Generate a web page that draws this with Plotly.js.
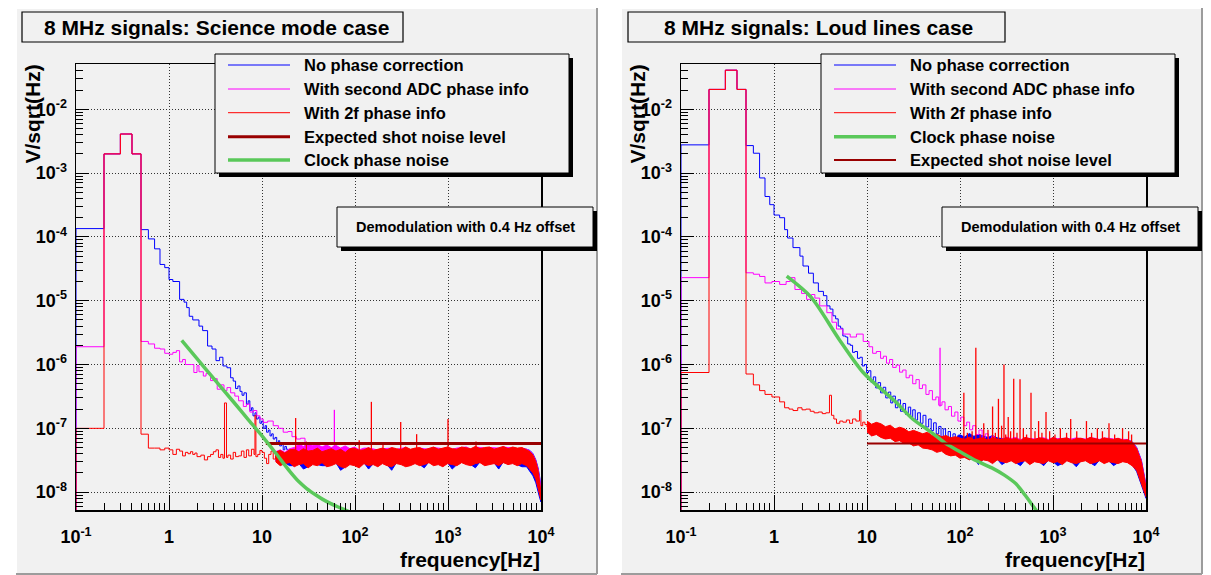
<!DOCTYPE html>
<html><head><meta charset="utf-8">
<script src="https://cdn.plot.ly/plotly-3.0.1.min.js"></script>
<style>html,body{margin:0;padding:0;background:#fff;} #chart{width:1211px;height:575px;}</style>
</head><body><div id="chart"></div>
<script>
// ---------------- text ----------------
const panelTitles = ['8 MHz signals: Science mode case', '8 MHz signals: Loud lines case'];
const legendL = ['No phase correction', 'With second ADC phase info', 'With 2f phase info', 'Expected shot noise level', 'Clock phase noise'];
const legendR = ['No phase correction', 'With second ADC phase info', 'With 2f phase info', 'Clock phase noise', 'Expected shot noise level'];
const boxNote = 'Demodulation with 0.4 Hz offset';
const yTitle = 'V/sqrt(Hz)';
const xTitle = 'frequency[Hz]';

// ---------------- ticks ----------------
const xTickVals = [0.1, 1, 10, 100, 1000, 10000];
const xTickText = ['10<sup>-1</sup>', '1', '10', '10<sup>2</sup>', '10<sup>3</sup>', '10<sup>4</sup>'];
const yTickVals = [1e-8, 1e-7, 1e-6, 1e-5, 1e-4, 1e-3, 1e-2];
const yTickText = ['10<sup>-8</sup>', '10<sup>-7</sup>', '10<sup>-6</sup>', '10<sup>-5</sup>', '10<sup>-4</sup>', '10<sup>-3</sup>', '10<sup>-2</sup>'];

// ================= LEFT PANEL (Science mode) =================
const blueL_f = [0.1, 0.1, 0.2, 0.3, 0.4, 0.5, 0.6, 0.7, 0.8, 0.9, 1.0, 1.1, 1.3, 1.45, 1.55, 1.65, 1.8, 2.1, 2.3, 2.6, 2.9, 3.2, 3.5, 3.8, 4.2, 4.6, 4.9, 5.2, 5.5, 5.8, 6.1, 6.4, 6.8, 7.1, 7.4, 7.7, 8.0, 8.4, 8.7, 9.1, 9.5, 9.9, 10.3, 10.8, 11.2, 11.7, 12.2, 12.7, 13.2, 13.8, 14.4, 15.0, 15.5, 16.2, 16.9, 17.6, 18.3, 19.2, 20];
const blueL_v = [4e-9, 1.35e-4, 2.0e-3, 4.1e-3, 2.0e-3, 1.3e-4, 9.3e-5, 6.5e-5, 3.7e-5, 3.3e-5, 2.15e-5, 2.0e-5, 1.05e-5, 9.5e-6, 7.8e-6, 5.7e-6, 5.0e-6, 4.0e-6, 3.4e-6, 1.95e-6, 1.75e-6, 1.15e-6, 1.3e-6, 9.5e-7, 8.9e-7, 6.2e-7, 5.5e-7, 4.2e-7, 4.6e-7, 3.8e-7, 3.3e-7, 3.6e-7, 2.4e-7, 2.7e-7, 1.9e-7, 2.1e-7, 1.57e-7, 1.75e-7, 1.4e-7, 1.5e-7, 1.2e-7, 1.3e-7, 1.0e-7, 1.1e-7, 8.7e-8, 9.4e-8, 7.6e-8, 8.2e-8, 6.8e-8, 7.2e-8, 5.8e-8, 6.4e-8, 5.3e-8, 5.7e-8, 4.6e-8, 5.2e-8, 4.7e-8, 4.3e-8, 4.0e-8];

const magL_f = [0.1, 0.1, 0.2, 0.3, 0.4, 0.5, 0.6, 0.7, 0.8, 0.9, 1.0, 1.1, 1.2, 1.3, 1.4, 1.5, 1.75, 1.85, 2.0, 2.1, 2.34, 2.5, 2.8, 3.0, 3.3, 3.6, 3.9, 4.2, 4.6, 5.1, 5.6, 6.3, 6.8, 7.4, 8.1, 8.8, 9.5, 10.3, 11.5, 13.2, 15, 16.9, 19, 21, 23.4, 26, 29, 32, 36, 40];
const magL_v = [4e-9, 1.9e-6, 2.0e-3, 4.1e-3, 2.0e-3, 2.3e-6, 2.1e-6, 1.8e-6, 1.75e-6, 1.5e-6, 1.45e-6, 1.55e-6, 1.65e-6, 1.1e-6, 1.2e-6, 1.0e-6, 1.0e-6, 7.5e-7, 9.6e-7, 7.7e-7, 6.6e-7, 7.2e-7, 5.6e-7, 6.0e-7, 4.1e-7, 4.8e-7, 3.9e-7, 4.35e-7, 3.6e-7, 3.2e-7, 2.7e-7, 2.2e-7, 2.4e-7, 1.8e-7, 1.9e-7, 1.57e-7, 1.4e-7, 1.24e-7, 1.3e-7, 1.1e-7, 1.0e-7, 8.7e-8, 8.9e-8, 7.4e-8, 6.8e-8, 7.0e-8, 5.8e-8, 5.5e-8, 5.8e-8, 4.8e-8];

const redL_f = [0.1, 0.1, 0.2, 0.3, 0.4, 0.5, 0.6, 0.7, 0.8, 0.9, 1.0, 1.1, 1.2, 1.3, 1.4, 1.5, 1.6, 1.7, 1.8, 1.9, 2.0, 2.2, 2.4, 2.6, 2.8, 3.0, 3.2, 3.4, 3.6, 3.8, 3.95, 4.15, 4.3, 4.6, 4.9, 5.2, 5.6, 6.0, 6.4, 6.8, 7.2, 7.7, 8.2, 8.4, 8.6, 9.0, 9.5, 10, 10.6, 11.2, 11.8, 12.5, 13.2, 14];
const redL_v = [4e-9, 1.0e-7, 2.0e-3, 4.1e-3, 2.0e-3, 8.1e-8, 4.9e-8, 4.9e-8, 4.6e-8, 4.9e-8, 4.6e-8, 3.9e-8, 4.7e-8, 4.4e-8, 3.7e-8, 4.2e-8, 4.0e-8, 4.3e-8, 3.9e-8, 4.1e-8, 3.6e-8, 3.8e-8, 3.2e-8, 3.6e-8, 3.9e-8, 4.3e-8, 4.6e-8, 3.5e-8, 3.9e-8, 3.4e-8, 2.5e-7, 3.5e-8, 3.8e-8, 3.3e-8, 4.2e-8, 3.6e-8, 3.7e-8, 4.4e-8, 3.5e-8, 4.6e-8, 3.7e-8, 4.7e-8, 3.9e-8, 1.6e-7, 3.6e-8, 3.9e-8, 4.5e-8, 4.2e-8, 3.4e-8, 2.8e-8, 3.9e-8, 4.4e-8, 3.3e-8, 3.8e-8];

// dense noise band: upper / lower envelope, in units of 1e-8 V/sqrt(Hz)
const BAND_UNIT = 1e-8;
const bandL_f = [14, 15.7, 17.6, 19.8, 22.2, 24.9, 27.9, 31.3, 35.1, 39.4, 44.2, 49.6, 55.6, 62.4, 70, 78.5, 88.1, 98.8, 111, 125, 140, 157, 176, 197, 221, 248, 279, 313, 351, 394, 442, 496, 556, 624, 700, 785, 881, 988, 1110, 1245, 1400, 1570, 1760, 1970, 2210, 2480, 2790, 3130, 3510, 3940, 4420, 4960, 5560, 6240, 7000, 7600, 8200, 8800, 9300, 9700, 10000];
const redHiL = [4.2, 4.5, 4.1, 4.6, 4.7, 4.3, 4.8, 4.4, 4.5, 4.9, 4.3, 4.6, 4.8, 4.4, 4.7, 4.2, 4.8, 4.9, 4.5, 4.6, 5.0, 4.5, 4.7, 4.9, 4.6, 5.0, 4.8, 4.6, 5.1, 4.7, 4.9, 5.0, 4.6, 4.8, 5.1, 4.7, 4.9, 5.1, 4.8, 4.7, 5.1, 4.9, 4.8, 5.2, 4.8, 5.0, 5.1, 4.7, 5.0, 5.2, 4.8, 5.1, 4.9, 5.0, 4.6, 4.3, 3.8, 3.0, 2.2, 1.5, 1.0];
const redLoL = [3.0, 2.6, 2.8, 2.9, 2.5, 2.7, 2.8, 2.4, 2.7, 2.6, 2.9, 2.5, 2.6, 2.8, 2.5, 2.4, 2.7, 2.6, 2.4, 2.8, 2.6, 2.7, 2.5, 2.8, 2.6, 2.5, 2.8, 2.7, 2.5, 2.6, 2.8, 2.6, 2.7, 2.9, 2.6, 2.7, 2.5, 2.8, 2.7, 2.6, 2.9, 2.7, 2.6, 2.8, 2.9, 2.6, 2.7, 2.8, 2.6, 2.9, 2.7, 2.8, 2.6, 2.8, 2.6, 2.3, 2.0, 1.6, 1.2, 0.9, 0.75];
const blueHiL = [3.9, 4.3, 3.9, 4.4, 4.5, 4.1, 4.6, 4.2, 4.3, 4.7, 4.1, 4.4, 4.6, 4.2, 4.5, 4.0, 4.6, 4.7, 4.3, 4.4, 4.8, 4.3, 4.5, 4.7, 4.4, 4.8, 4.6, 4.4, 4.9, 4.5, 4.7, 4.8, 4.4, 4.6, 4.9, 4.5, 4.7, 4.9, 4.6, 4.5, 4.9, 4.7, 4.6, 5.0, 4.6, 4.8, 4.9, 4.5, 4.8, 5.0, 4.6, 4.9, 4.7, 4.8, 4.7, 4.5, 4.0, 3.2, 2.4, 1.7, 1.1];
const blueLoL = [3.1, 2.7, 2.9, 2.6, 2.6, 2.8, 2.3, 2.5, 2.8, 2.7, 2.6, 2.6, 2.7, 2.9, 2.2, 2.5, 2.8, 2.7, 2.5, 2.9, 2.3, 2.8, 2.6, 2.9, 2.7, 2.2, 2.9, 2.8, 2.6, 2.7, 2.9, 2.7, 2.4, 3.0, 2.7, 2.8, 2.6, 2.9, 2.3, 2.7, 3.0, 2.8, 2.7, 2.4, 3.0, 2.7, 2.8, 2.9, 2.3, 3.0, 2.8, 2.9, 2.7, 2.5, 2.5, 2.1, 1.8, 1.4, 1.05, 0.8, 0.7];
const magHiL = [4.3, 4.6, 4.2, 4.8, 5.0, 5.6, 5.2, 5.8, 5.3, 5.6, 5.1, 5.5, 5.0, 5.4, 4.9, 5.3, 4.8, 5.1, 4.6, 4.9, 4.9, 4.7, 4.6, 4.8, 4.8, 4.9, 4.7, 4.8, 5.0, 4.6, 4.8, 4.9, 4.8, 4.7, 5.0, 4.9, 4.8, 5.0, 4.7, 4.9, 5.0, 5.1, 4.7, 5.1, 5.0, 4.9, 5.0, 4.9, 4.9, 5.1, 5.0, 5.0, 4.8, 4.9, 4.7, 4.4, 3.9, 3.1, 2.3, 1.6, 1.05];
const magLoL = [3.1, 2.8, 3.0, 3.0, 2.7, 2.8, 2.9, 2.6, 2.8, 2.7, 3.0, 2.7, 2.7, 2.9, 2.6, 2.6, 2.8, 2.7, 2.6, 2.9, 2.7, 2.8, 2.6, 2.9, 2.7, 2.6, 2.9, 2.8, 2.6, 2.7, 2.9, 2.7, 2.8, 3.0, 2.7, 2.8, 2.6, 2.9, 2.8, 2.7, 3.0, 2.8, 2.7, 2.9, 3.0, 2.7, 2.8, 2.9, 2.7, 3.0, 2.8, 2.9, 2.7, 2.9, 2.7, 2.4, 2.1, 1.7, 1.3, 0.95, 0.8];

// narrow lines sticking out of the band
const redSpikeL_f = [23, 30, 111, 150, 200, 310, 460, 1000, 2000];
const redSpikeL_v = [1.45e-7, 6.2e-8, 6.5e-8, 2.6e-7, 6.0e-8, 1.26e-7, 8.1e-8, 1.4e-7, 6.2e-8];
const redSpikeL_base = 3.6e-8;
const magSpikeL_f = [60];
const magSpikeL_v = [1.95e-7];
const magSpikeL_base = 4.2e-8;

const greenL_f = [1.37, 2, 3, 5, 7, 10, 14, 20, 25, 30, 38, 45, 55, 65, 75, 90];
const greenL_v = [2.4e-6, 1.24e-6, 6.1e-7, 2.54e-7, 1.41e-7, 7.6e-8, 4.1e-8, 2.1e-8, 1.45e-8, 1.15e-8, 9.0e-9, 7.7e-9, 6.6e-9, 5.9e-9, 5.4e-9, 4.8e-9];

const shotL_f = [11, 10000];
const shotL_v = [5.8e-8, 5.8e-8];

// ================= RIGHT PANEL (Loud lines) =================
const blueR_f = [0.1, 0.1, 0.2, 0.3, 0.4, 0.5, 0.6, 0.7, 0.8, 0.9, 1.0, 1.15, 1.3, 1.4, 1.6, 1.9, 2.05, 2.35, 2.65, 3.0, 3.4, 3.7, 4.0, 4.3, 4.6, 4.9, 5.2, 5.5, 5.9, 6.2, 6.6, 7.0, 7.4, 7.9, 8.4, 8.9, 9.4, 9.9, 10.4, 11.0, 11.7, 12.4, 13.1, 14.0, 14.9, 15.9, 17.0, 18.0, 18.9, 20.2, 21.5, 22.9, 24.4, 26.0, 27.8, 29.5, 31.0, 33.0, 35.0, 37.5, 40.0, 43.0, 46.0, 49.0, 52.0, 55.5, 59.0, 62.5, 66.0, 70.0, 74.5, 79.0, 84.0, 89.0, 95.0, 101, 107];
const blueR_v = [4e-9, 2.77e-3, 2.05e-2, 4.1e-2, 2.05e-2, 2.7e-3, 2.05e-3, 8.4e-4, 4.3e-4, 3.2e-4, 2.2e-4, 2.0e-4, 1.3e-4, 9.6e-5, 6.8e-5, 5.0e-5, 3.5e-5, 2.7e-5, 1.9e-5, 1.4e-5, 1.2e-5, 8.3e-6, 7.4e-6, 5.8e-6, 5.2e-6, 4.0e-6, 3.7e-6, 2.8e-6, 2.7e-6, 2.1e-6, 2.0e-6, 1.55e-6, 1.6e-6, 1.25e-6, 1.3e-6, 9.5e-7, 1.0e-6, 7.5e-7, 8.0e-7, 5.3e-7, 6.4e-7, 4.3e-7, 5.2e-7, 3.6e-7, 4.4e-7, 3.0e-7, 3.7e-7, 2.5e-7, 3.2e-7, 2.1e-7, 2.8e-7, 1.85e-7, 2.45e-7, 1.65e-7, 2.15e-7, 1.5e-7, 1.95e-7, 1.35e-7, 1.75e-7, 1.2e-7, 1.6e-7, 1.05e-7, 1.4e-7, 9.2e-8, 1.22e-7, 8.2e-8, 1.07e-7, 7.4e-8, 9.8e-8, 6.7e-8, 8.9e-8, 6.2e-8, 8.2e-8, 5.8e-8, 7.8e-8, 5.5e-8, 7.2e-8];

const magR_f = [0.1, 0.1, 0.2, 0.3, 0.4, 0.5, 0.6, 0.7, 0.8, 0.95, 1.15, 1.35, 1.5, 1.68, 1.98, 2.24, 2.53, 2.75, 3.1, 3.7, 4.2, 4.7, 5.5, 6.6, 7.7, 9.1, 10.5, 11.5, 12.6, 14, 15, 16.2, 17.5, 18.9, 20.6, 22.4, 24.2, 26.3, 28.5, 31, 33.6, 36.5, 39.5, 43, 46.5, 50.5, 55, 59, 64, 69, 75, 81, 88, 95, 102, 110, 118, 127, 137, 148, 160, 173, 187, 202, 218, 236, 255, 276, 300];
const magR_v = [4e-9, 2.3e-5, 2.05e-2, 4.1e-2, 2.05e-2, 2.74e-5, 2.6e-5, 2.4e-5, 1.9e-5, 2.0e-5, 1.8e-5, 2.0e-5, 2.3e-5, 1.5e-5, 1.3e-5, 1.05e-5, 1.25e-5, 1.1e-5, 8.3e-6, 6.5e-6, 4.6e-6, 3.6e-6, 3.0e-6, 2.7e-6, 3.0e-6, 2.3e-6, 1.9e-6, 1.5e-6, 1.6e-6, 1.25e-6, 1.35e-6, 1.05e-6, 1.2e-6, 9.0e-7, 9.8e-7, 7.6e-7, 8.2e-7, 6.2e-7, 6.8e-7, 5.0e-7, 5.8e-7, 4.2e-7, 4.8e-7, 3.4e-7, 3.9e-7, 2.8e-7, 3.1e-7, 2.3e-7, 2.6e-7, 1.95e-7, 2.2e-7, 1.55e-7, 1.8e-7, 1.3e-7, 1.5e-7, 1.1e-7, 1.25e-7, 9.5e-8, 1.1e-7, 8.0e-8, 9.4e-8, 7.0e-8, 8.2e-8, 6.2e-8, 7.4e-8, 5.6e-8, 6.6e-8, 5.6e-8, 6.2e-8];

const redR_f = [0.1, 0.1, 0.2, 0.3, 0.4, 0.5, 0.6, 0.7, 0.8, 0.95, 1.15, 1.3, 1.45, 1.6, 1.8, 2.0, 2.2, 2.45, 2.7, 3.0, 3.3, 3.6, 3.95, 4.15, 4.4, 4.7, 5.1, 5.5, 6.0, 6.5, 7.0, 7.6, 8.3, 8.6, 9.0, 9.5, 10];
const redR_v = [4e-9, 7.5e-7, 2.05e-2, 4.1e-2, 2.05e-2, 7.1e-7, 4.8e-7, 3.9e-7, 3.4e-7, 3.1e-7, 2.6e-7, 2.1e-7, 2.0e-7, 1.9e-7, 2.1e-7, 1.95e-7, 2.0e-7, 1.85e-7, 1.75e-7, 1.8e-7, 1.7e-7, 1.75e-7, 3.3e-7, 1.6e-7, 1.4e-7, 1.2e-7, 1.3e-7, 1.25e-7, 1.35e-7, 1.2e-7, 1.4e-7, 1.3e-7, 1.9e-7, 1.1e-7, 1.25e-7, 1.15e-7, 1.05e-7];

const bandR_f = [10, 11.2, 12.6, 14.1, 15.8, 17.8, 20, 22.4, 25.1, 28.2, 31.6, 35.5, 39.8, 44.7, 50.1, 56.2, 63.1, 70.8, 79.4, 89.1, 100, 112, 126, 141, 158, 178, 200, 224, 251, 282, 316, 355, 398, 447, 501, 562, 631, 708, 794, 891, 1000, 1120, 1260, 1410, 1580, 1780, 2000, 2240, 2510, 2820, 3160, 3550, 3980, 4470, 5010, 5620, 6310, 7080, 7940, 8910, 10000];
const redHiR = [13, 11.6, 12.4, 11.8, 10.6, 11.2, 9.8, 10.4, 9.9, 8.8, 9.3, 8.6, 8.2, 8.7, 7.7, 8.1, 7.4, 7.7, 7.1, 7.4, 7.0, 6.7, 7.3, 6.6, 6.9, 7.1, 6.5, 7.2, 6.8, 6.6, 7.1, 6.7, 6.9, 6.4, 7.2, 6.8, 6.6, 7.1, 6.9, 6.5, 7.2, 6.7, 6.9, 7.1, 6.5, 6.9, 7.0, 6.6, 7.2, 6.8, 6.6, 7.1, 6.8, 6.7, 7.0, 6.5, 6.6, 6.0, 4.8, 3.0, 1.2];
const redLoR = [8.8, 7.6, 8.0, 7.2, 6.8, 7.0, 6.2, 6.4, 5.8, 5.9, 5.3, 5.5, 4.9, 4.8, 4.6, 4.2, 4.4, 3.9, 3.7, 3.8, 3.4, 3.5, 3.2, 3.4, 3.0, 3.2, 3.1, 2.8, 3.2, 3.0, 2.9, 3.1, 2.8, 3.0, 3.1, 2.7, 3.0, 2.9, 2.8, 3.1, 2.9, 3.0, 2.7, 3.1, 2.9, 2.8, 3.0, 3.1, 2.8, 2.9, 3.1, 2.8, 3.0, 2.9, 2.8, 3.0, 2.9, 2.6, 2.2, 1.4, 0.85];
const blueHiR = [12, 11, 11.5, 10.8, 10, 10.4, 9.2, 9.6, 9.0, 8.2, 8.6, 8.0, 7.6, 8.0, 7.2, 7.4, 6.9, 7.1, 6.6, 6.9, 7.9, 7.3, 8.3, 7.5, 8.0, 7.6, 7.2, 7.7, 7.1, 6.9, 6.9, 6.6, 6.8, 6.3, 7.0, 6.6, 6.5, 6.9, 6.7, 6.4, 7.0, 6.6, 6.7, 6.9, 6.4, 6.8, 6.8, 6.5, 7.0, 6.6, 6.5, 6.9, 6.6, 6.6, 6.8, 6.4, 6.6, 6.2, 5.0, 3.2, 1.3];
const blueLoR = [9.0, 7.8, 8.2, 7.4, 7.0, 7.2, 6.4, 6.6, 6.0, 6.1, 5.5, 5.7, 5.1, 5.0, 4.8, 4.4, 4.6, 4.1, 3.9, 4.0, 3.5, 3.6, 3.3, 3.5, 2.7, 3.3, 3.2, 2.9, 3.3, 2.7, 3.0, 3.2, 2.9, 2.6, 3.2, 2.8, 3.1, 3.0, 2.6, 3.2, 3.0, 2.6, 2.8, 3.2, 3.0, 2.5, 3.1, 3.2, 2.9, 2.6, 3.2, 2.9, 3.1, 2.6, 2.9, 3.1, 3.0, 2.7, 2.1, 1.3, 0.8];
const magHiR = [12, 11, 11.5, 10.8, 10, 10.4, 9.2, 9.6, 9.0, 8.2, 8.6, 8.0, 7.6, 8.0, 7.2, 7.4, 6.9, 7.1, 6.6, 6.9, 6.6, 6.4, 6.9, 6.3, 6.6, 6.8, 6.2, 6.9, 6.5, 6.7, 7.3, 6.9, 7.2, 6.6, 7.1, 7.0, 6.8, 7.0, 7.1, 6.7, 7.1, 6.9, 7.0, 7.0, 6.8, 7.1, 6.9, 6.8, 7.1, 7.0, 6.7, 7.0, 7.0, 6.8, 6.9, 6.7, 6.7, 6.1, 4.9, 3.1, 1.25];
const magLoR = [9.0, 7.8, 8.2, 7.4, 7.0, 7.2, 6.4, 6.6, 6.0, 6.1, 5.5, 5.7, 5.1, 5.0, 4.8, 4.4, 4.6, 4.1, 3.9, 4.0, 3.5, 3.6, 3.3, 3.5, 3.1, 3.3, 3.2, 2.9, 3.3, 3.1, 3.0, 3.2, 2.9, 3.1, 3.2, 2.8, 3.1, 3.0, 2.9, 3.2, 3.0, 3.1, 2.8, 3.2, 3.0, 2.9, 3.1, 3.2, 2.9, 3.0, 3.2, 2.9, 3.1, 3.0, 2.9, 3.1, 3.0, 2.7, 2.3, 1.5, 0.9];

const redSpikeR_f = [110, 120, 135, 148, 165, 180, 200, 224, 240, 259, 280, 297, 310, 330, 350, 378, 410, 442, 480, 520, 580, 640, 700, 760, 841, 920, 1050, 1200, 1400, 1550, 1800, 2290, 2600, 3000, 3400, 4000, 4600, 5600, 6500, 7000];
const redSpikeR_v = [3.6e-7, 8.5e-8, 9.0e-8, 1.84e-6, 8.0e-8, 1.2e-7, 9.5e-8, 2.2e-7, 8.5e-8, 2.9e-7, 1.1e-7, 1.0e-6, 8.0e-8, 1.5e-7, 9.0e-8, 6.0e-7, 8.5e-8, 5.9e-7, 1.0e-7, 8.0e-8, 3.6e-7, 9.0e-8, 1.3e-7, 8.5e-8, 1.8e-7, 9.0e-8, 8.0e-8, 1.0e-7, 8.5e-8, 1.4e-7, 9.0e-8, 1.3e-7, 8.5e-8, 1.0e-7, 9.0e-8, 1.2e-7, 8.0e-8, 1.0e-7, 9.0e-8, 8.0e-8];
const redSpikeR_base = 4.5e-8;
const magSpikeR_f = [61];
const magSpikeR_v = [1.84e-6];
const magSpikeR_base = 2.2e-7;

const greenR_f = [1.37, 2.5, 5, 9.1, 20, 31, 50, 70, 100, 150, 220, 300, 400, 500, 640, 720];
const greenR_v = [2.43e-5, 1.14e-5, 2.5e-6, 7.5e-7, 2.65e-7, 1.4e-7, 8.5e-8, 5.8e-8, 4.3e-8, 3.1e-8, 2.4e-8, 1.85e-8, 1.35e-8, 9.0e-9, 5.5e-9, 4.4e-9];

const shotR_f = [10, 10000];
const shotR_v = [5.8e-8, 5.8e-8];

// ---------------- styles ----------------
const FONT = 'Liberation Sans, Arial, Helvetica, sans-serif';
const W = 1211, H = 575;
const BLUE = '#0000ff', MAGENTA = '#ff00ff', RED = '#ff0000', DARKRED = '#990000', GREEN = '#5ac85a';
const PAD = '#f1f1f1';
const px = x => x / W;
const py = y => 1 - y / H;

function stepTrace(f, v, color, ax) {
  return {x: f, y: v, xaxis: ax[0], yaxis: ax[1], type: 'scatter', mode: 'lines',
    line: {color: color, width: 1, shape: 'hv'}, hoverinfo: 'skip', showlegend: false};
}
function bandTrace(f, hi, lo, color, ax) {
  const x = f.concat(f.slice().reverse());
  const y = hi.map(v => v * BAND_UNIT).concat(lo.map(v => v * BAND_UNIT).reverse());
  return {x: x, y: y, xaxis: ax[0], yaxis: ax[1], type: 'scatter', mode: 'lines', fill: 'toself',
    fillcolor: color, line: {color: color, width: 1}, hoverinfo: 'skip', showlegend: false};
}
function spikeTrace(f, v, base, color, ax) {
  const x = [], y = [];
  f.forEach((fi, i) => { x.push(fi, fi, null); y.push(base, v[i], null); });
  return {x: x, y: y, xaxis: ax[0], yaxis: ax[1], type: 'scatter', mode: 'lines',
    line: {color: color, width: 1.3}, hoverinfo: 'skip', showlegend: false, connectgaps: false};
}
function smoothTrace(f, v, color, width, ax, shape) {
  return {x: f, y: v, xaxis: ax[0], yaxis: ax[1], type: 'scatter', mode: 'lines',
    line: {color: color, width: width, shape: shape || 'linear', smoothing: 0.8}, hoverinfo: 'skip', showlegend: false};
}

const AL = ['x', 'y'], AR = ['x2', 'y2'];
const data = [
  // left
  bandTrace(bandL_f, blueHiL, blueLoL, BLUE, AL),
  stepTrace(blueL_f, blueL_v, BLUE, AL),
  bandTrace(bandL_f, magHiL, magLoL, MAGENTA, AL),
  stepTrace(magL_f, magL_v, MAGENTA, AL),
  spikeTrace(magSpikeL_f, magSpikeL_v, magSpikeL_base, MAGENTA, AL),
  bandTrace(bandL_f, redHiL, redLoL, RED, AL),
  stepTrace(redL_f, redL_v, RED, AL),
  spikeTrace(redSpikeL_f, redSpikeL_v, redSpikeL_base, RED, AL),
  smoothTrace(shotL_f, shotL_v, DARKRED, 3, AL),
  smoothTrace(greenL_f, greenL_v, GREEN, 3.5, AL, 'spline'),
  // right
  bandTrace(bandR_f, blueHiR, blueLoR, BLUE, AR),
  stepTrace(blueR_f, blueR_v, BLUE, AR),
  bandTrace(bandR_f, magHiR, magLoR, MAGENTA, AR),
  stepTrace(magR_f, magR_v, MAGENTA, AR),
  spikeTrace(magSpikeR_f, magSpikeR_v, magSpikeR_base, MAGENTA, AR),
  bandTrace(bandR_f, redHiR, redLoR, RED, AR),
  stepTrace(redR_f, redR_v, RED, AR),
  spikeTrace(redSpikeR_f, redSpikeR_v, redSpikeR_base, RED, AR),
  smoothTrace(greenR_f, greenR_v, GREEN, 3.5, AR, 'spline'),
  smoothTrace(shotR_f, shotR_v, DARKRED, 2, AR)
];

const tickFont = {family: FONT, size: 18, color: '#000', weight: 'bold'};
function xAxis(x0, x1, anchor) {
  return {type: 'log', range: [-1, 4], domain: [px(x0), px(x1)], anchor: anchor,
    tickmode: 'array', tickvals: xTickVals, ticktext: xTickText,
    ticks: 'inside', ticklen: 15, tickwidth: 1, tickcolor: '#000',
    minor: {ticks: 'inside', ticklen: 7, tickwidth: 1, tickcolor: '#000', dtick: 'D1', showgrid: false},
    showgrid: true, gridcolor: '#333', griddash: '1px,2px', gridwidth: 1,
    showline: true, mirror: true, linecolor: '#000', linewidth: 1.5,
    tickfont: tickFont, ticklabelstandoff: 10, zeroline: false, fixedrange: true};
}
function yAxis(anchor) {
  return {type: 'log', range: [-8.28, -1.29], domain: [py(510), py(64)], anchor: anchor,
    tickmode: 'array', tickvals: yTickVals, ticktext: yTickText,
    ticks: 'inside', ticklen: 13, tickwidth: 1, tickcolor: '#000',
    minor: {ticks: 'inside', ticklen: 7, tickwidth: 1, tickcolor: '#000', dtick: 'D1', showgrid: false},
    showgrid: true, gridcolor: '#333', griddash: '1px,2px', gridwidth: 1,
    showline: true, mirror: true, linecolor: '#000', linewidth: 1.5,
    tickfont: tickFont, ticklabelstandoff: 4, zeroline: false, fixedrange: true};
}

const shapes = [];
function rect(x0, y0, x1, y1, fill, lineColor, lw, layer) {
  shapes.push({type: 'rect', xref: 'paper', yref: 'paper', x0: px(x0), x1: px(x1), y0: py(y1), y1: py(y0),
    fillcolor: fill, line: {color: lineColor, width: lw}, layer: layer});
}
function seg(x0, y0, x1, y1, color, w, layer) {
  shapes.push({type: 'line', xref: 'paper', yref: 'paper', x0: px(x0), y0: py(y0), x1: px(x1), y1: py(y1),
    line: {color: color, width: w}, layer: layer});
}
const annotations = [];
function label(text, x, y, size, xa, ya, angle) {
  annotations.push({text: text, xref: 'paper', yref: 'paper', x: px(x), y: py(y), xanchor: xa, yanchor: ya,
    showarrow: false, textangle: angle || 0, borderpad: 0,
    font: {family: FONT, size: size, color: '#000', weight: 'bold'}});
}

// pads
[[16, 597], [621, 1202]].forEach(p => {
  rect(p[0], 8, p[1], 574, PAD, 'rgba(0,0,0,0)', 0, 'below');
  seg(p[0], 8, p[0], 574, '#ffffff', 2, 'below');
  seg(p[0], 8, p[1], 8, '#ffffff', 2, 'below');
  seg(p[1], 8, p[1], 574, '#9c9c9c', 2, 'below');
  seg(p[0], 574, p[1], 574, '#9c9c9c', 2, 'below');
});

// title boxes
rect(22, 12, 403, 42, PAD, '#000', 1.2, 'above');
label(panelTitles[0], 216, 27, 21, 'center', 'middle');
rect(628, 12, 1005, 42, PAD, '#000', 1.2, 'above');
label(panelTitles[1], 818, 27, 21, 'center', 'middle');

// legends
const rowsY = [65, 89, 112.7, 136.7, 160];
const legColorsL = [BLUE, MAGENTA, RED, DARKRED, GREEN];
const legWidthsL = [1, 1, 1, 3, 3.5];
const legColorsR = [BLUE, MAGENTA, RED, GREEN, DARKRED];
const legWidthsR = [1, 1, 1, 3.5, 2];
function legend(x0, labels, colors, widths) {
  rect(x0 + 4, 58, x0 + 358, 177, '#000', '#000', 0, 'above');
  rect(x0, 54, x0 + 354, 173, PAD, '#000', 1, 'above');
  labels.forEach((t, i) => {
    seg(x0 + 13, rowsY[i], x0 + 75, rowsY[i], colors[i], widths[i], 'above');
    label(t, x0 + 88, rowsY[i], 16.5, 'left', 'middle');
  });
}
legend(215, legendL, legColorsL, legWidthsL);
legend(821, legendR, legColorsR, legWidthsR);

// note boxes
function note(x0) {
  rect(x0 + 4, 211, x0 + 260, 251, '#000', '#000', 0, 'above');
  rect(x0, 207, x0 + 256, 247, PAD, '#000', 1, 'above');
  label(boxNote, x0 + 128, 227, 14.5, 'center', 'middle');
}
note(337);
note(942);

// axis titles
label(yTitle, 32, 64, 21, 'center', 'top', -90);
label(yTitle, 637, 64, 21, 'center', 'top', -90);
label(xTitle, 541, 559, 21, 'right', 'middle');
label(xTitle, 1146, 559, 21, 'right', 'middle');

const layout = {
  width: W, height: H, margin: {l: 0, r: 0, t: 0, b: 0},
  paper_bgcolor: '#ffffff', plot_bgcolor: 'rgba(0,0,0,0)', showlegend: false,
  xaxis: xAxis(76, 541, 'y'), yaxis: yAxis('x'),
  xaxis2: xAxis(681, 1146, 'y2'), yaxis2: yAxis('x2'),
  shapes: shapes, annotations: annotations
};
Plotly.newPlot('chart', data, layout, {staticPlot: true, displayModeBar: false});
</script></body></html>
